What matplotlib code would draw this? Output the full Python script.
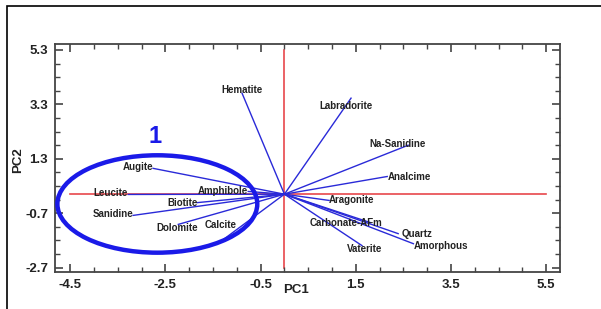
import matplotlib
matplotlib.use("Agg")
import matplotlib.pyplot as plt
from matplotlib.patches import Ellipse, Rectangle
import numpy as np

plt.rcParams['font.family'] = ['Liberation Sans', 'DejaVu Sans']

names = ["Hematite", "Labradorite", "Na-Sanidine", "Analcime", "Aragonite",
         "Carbonate-AFm", "Quartz", "Amorphous", "Vaterite", "Augite", "Leucite",
         "Amphibole", "Biotite", "Sanidine", "Dolomite", "Calcite"]
pc1 = [-0.89, 1.40, 2.60, 2.16, 0.94, 1.80, 2.39, 2.71, 1.63,
       -2.76, -3.28, -0.76, -1.83, -3.18, -2.23, -1.31]
pc2 = [3.71, 3.53, 1.80, 0.65, -0.23, -1.04, -1.45, -1.82, -1.89,
       0.95, -0.01, 0.10, -0.31, -0.78, -1.11, -1.70]

xticks = [-4.5, -2.5, -0.5, 1.5, 3.5, 5.5]
yticks = [-2.7, -0.7, 1.3, 3.3, 5.3]

# label offsets in pixels (layout only)
offsets = {
    "Hematite": (0, 3), "Labradorite": (-5, -8), "Na-Sanidine": (-11, 1),
    "Analcime": (22, 0), "Aragonite": (22, 0), "Carbonate-AFm": (-24, -1),
    "Quartz": (19, 0), "Amorphous": (28, -2), "Vaterite": (3, -3),
    "Augite": (-15, 1), "Leucite": (-18, 1), "Amphibole": (-25, 0),
    "Biotite": (-15, 0), "Sanidine": (-20, 1), "Dolomite": (-1, -4),
    "Calcite": (-1, 15),
}

fig = plt.figure(figsize=(6.01, 3.09), dpi=100)
ax = fig.add_axes([55/601, 1-272/309, (560-55)/601, (272-44)/309])

# figure border (left and top visible)
fig.patches.append(Rectangle((7/601, -0.1), 1.2, 1 - 6/309 + 0.1,
                             transform=fig.transFigure, fill=False,
                             edgecolor='black', linewidth=1.2))

red = '#e8474c'
ax.plot([xticks[0], xticks[-1]], [0, 0], color=red, lw=1.2, zorder=1)
ax.plot([0, 0], [yticks[0], yticks[-1]], color=red, lw=1.2, zorder=1)

blue = '#2a2ad8'
for n, x, y in zip(names, pc1, pc2):
    ax.plot([0, x], [0, y], color=blue, lw=1.0, zorder=2)
    ax.annotate(n, xy=(x, y), xytext=offsets[n], textcoords='offset pixels',
                ha='center', va='center', fontsize=7, fontweight='bold',
                color='#222222', zorder=3)

ell = Ellipse((-2.67, -0.36), 4.20, 3.58, fill=False, edgecolor='#1a1ae8',
              linewidth=3.2, zorder=4)
ax.add_patch(ell)
ax.text(-2.71, 2.13, "1", color='#1a1ae8', fontsize=17, fontweight='bold',
        ha='center', va='center')

ax.set_xlim(-4.82, 5.79)
ax.set_ylim(-2.86, 5.52)
ax.set_xticks(xticks)
ax.set_yticks(yticks)
ax.set_xticks(np.arange(-4.5, 5.51, 0.5), minor=True)
ax.set_yticks(np.arange(-2.7, 5.31, 0.5), minor=True)
ax.set_xticklabels([f"{t:.1f}" for t in xticks], fontsize=9.5, fontweight='bold', color='#222222')
ax.set_yticklabels([f"{t:.1f}" for t in yticks], fontsize=9.5, fontweight='bold', color='#222222')
ax.tick_params(which='both', direction='in', top=True, right=True, color='#444444')
ax.tick_params(which='major', length=6, width=1.2, pad=5)
ax.tick_params(which='minor', length=3.5, width=1.0)
for s in ax.spines.values():
    s.set_linewidth(1.3)
    s.set_color('#444444')

fig.text(296/601, 1-290/309, "PC1", ha='center', va='center', fontsize=9.5,
         fontweight='bold', color='#222222')
fig.text(18/601, 1-160/309, "PC2", ha='center', va='center', fontsize=9.5,
         fontweight='bold', color='#222222', rotation=90)

fig.savefig("out.png", dpi=100)
